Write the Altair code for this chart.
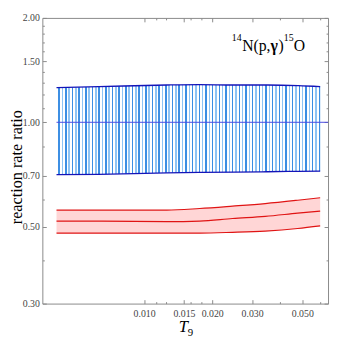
import altair as alt
import pandas as pd

# ---- data ----
t_blue = [0.0041, 0.0063, 0.0126, 0.0175, 0.025, 0.035, 0.048, 0.060]
blue_hi = [1.259, 1.267, 1.281, 1.284, 1.281, 1.281, 1.276, 1.268]
blue_lo = [0.706, 0.708, 0.715, 0.717, 0.718, 0.720, 0.722, 0.723]

t_red = [0.0041, 0.0065, 0.0126, 0.0176, 0.0246, 0.0343, 0.0477, 0.060]
red_hi = [0.558, 0.558, 0.558, 0.564, 0.573, 0.583, 0.596, 0.606]
red_mid = [0.519, 0.519, 0.517, 0.519, 0.528, 0.5355, 0.547, 0.5545]
red_lo = [0.479, 0.479, 0.479, 0.479, 0.4816, 0.4857, 0.494, 0.5026]

x_major = [0.010, 0.015, 0.020, 0.030, 0.050]
x_minor = [0.0113, 0.0125, 0.016, 0.018, 0.04, 0.06]
y_major = [0.30, 0.50, 0.70, 1.00, 1.50, 2.00]
y_minor = [0.40, 0.60, 0.85, 1.1, 1.2, 1.3, 1.4, 1.6, 1.7, 1.8, 1.9]
unity = [1.0]

blue = pd.DataFrame({"T": t_blue, "hi": blue_hi, "lo": blue_lo})
red = pd.DataFrame({"T": t_red, "hi": red_hi, "mid": red_mid, "lo": red_lo})
one = pd.DataFrame({"T": [t_blue[0]], "v": unity})

W, H = 291, 291
SERIF = "Liberation Serif"
FRAME = "#8a8a8a"

xs = alt.Scale(type="log", domain=[0.00355, 0.065])
ys = alt.Scale(type="log", domain=[0.30, 2.0])


def xaxis(orient, values, size, labels):
    return alt.Axis(orient=orient, values=values, tickSize=size, offset=-size,
                    domain=False, grid=False, labels=labels, title=None,
                    tickColor=FRAME, tickWidth=1, format=".3f",
                    labelFont=SERIF, labelFontSize=10, labelColor="#444444",
                    labelPadding=5, labelFlush=False, labelOverlap=False)


def yaxis(orient, values, size, labels):
    return alt.Axis(orient=orient, values=values, tickSize=size, offset=-size,
                    domain=False, grid=False, labels=labels, title=None,
                    tickColor=FRAME, tickWidth=1, format=".2f",
                    labelFont=SERIF, labelFontSize=10, labelColor="#444444",
                    labelPadding=3, labelFlush=False, labelOverlap=False)


# striped fill for the blue band
n = 79
stops = []
for i in range(n):
    a = round(i / n, 5)
    m = round((i + 0.55) / n, 5)
    b = round((i + 1) / n, 5)
    col = "#3d8fe3" if i % 2 == 0 else "#8fc4f4"
    stops += [alt.GradientStop(color="white", offset=a),
              alt.GradientStop(color="white", offset=m),
              alt.GradientStop(color=col, offset=m),
              alt.GradientStop(color=col, offset=b)]
hatch = alt.LinearGradient(gradient="linear", stops=stops, x1=0, x2=1, y1=0, y2=0)

blue_area = alt.Chart(blue).mark_area(fill=hatch, interpolate="monotone").encode(
    x=alt.X("T:Q", scale=xs, axis=xaxis("bottom", x_major, 4, True)),
    y=alt.Y("lo:Q", scale=ys, axis=yaxis("left", y_major, 4, True)),
    y2="hi:Q",
)
blue_hi_line = alt.Chart(blue).mark_line(color="#1414b8", strokeWidth=1.3, interpolate="monotone").encode(
    x=alt.X("T:Q", scale=xs, axis=xaxis("top", x_major, 4, False)),
    y=alt.Y("hi:Q", scale=ys, axis=yaxis("right", y_major, 4, False)),
)
blue_lo_line = alt.Chart(blue).mark_line(color="#1414b8", strokeWidth=1.3, interpolate="monotone").encode(
    x=alt.X("T:Q", scale=xs, axis=xaxis("bottom", x_minor, 2, False)),
    y=alt.Y("lo:Q", scale=ys, axis=yaxis("left", y_minor, 2, False)),
)
unity_rule = alt.Chart(one).mark_rule(color="#4a4ae0", strokeWidth=1).encode(
    x=alt.X("T:Q", scale=xs, axis=xaxis("top", x_minor, 2, False)),
    x2=alt.value(W),
    y=alt.Y("v:Q", scale=ys, axis=yaxis("right", y_minor, 2, False)),
)
red_area = alt.Chart(red).mark_area(color="#ffd6d6", opacity=1, interpolate="monotone").encode(
    x=alt.X("T:Q", scale=xs, axis=None),
    y=alt.Y("lo:Q", scale=ys, axis=None),
    y2="hi:Q",
)
red_lines = [
    alt.Chart(red).mark_line(color="#e01414", strokeWidth=1.2, interpolate="monotone").encode(
        x=alt.X("T:Q", scale=xs, axis=None),
        y=alt.Y(f"{c}:Q", scale=ys, axis=None),
    )
    for c in ["hi", "mid", "lo"]
]

txt = pd.DataFrame({"a": [0]})


def label(text, x, y, size, style="normal", weight="normal", angle=0, align="left", baseline="alphabetic"):
    kw = dict(text=text, font=SERIF, fontSize=size, fontStyle=style, fontWeight=weight,
              align=align, baseline=baseline, color="black")
    if angle:
        kw["angle"] = angle
    return alt.Chart(txt).mark_text(**kw).encode(x=alt.value(x), y=alt.value(y))


texts = [
    label("14", 193, 24, 10),
    label("N(p,", 203.5, 33.5, 16),
    label("γ", 232.5, 33.5, 16, weight="bold"),
    label(")", 240.5, 33.5, 16),
    label("15", 246, 24, 10),
    label("O", 256, 33.5, 16),
    label("reaction rate ratio", -25.5, 152, 16.5, angle=270, align="center", baseline="middle"),
    label("T", 139, 320, 17, style="italic"),
    label("9", 148, 324, 11),
]

chart = alt.layer(
    blue_area, blue_hi_line, blue_lo_line, unity_rule, red_area, *red_lines, *texts
).resolve_axis(x="independent", y="independent").properties(
    width=W, height=H, autosize="none",
    padding={"left": 35, "top": 7, "right": 2, "bottom": 35},
).configure_view(stroke=FRAME, strokeWidth=1)

chart.save("out.html", embed_options={"renderer": "svg", "actions": False})
